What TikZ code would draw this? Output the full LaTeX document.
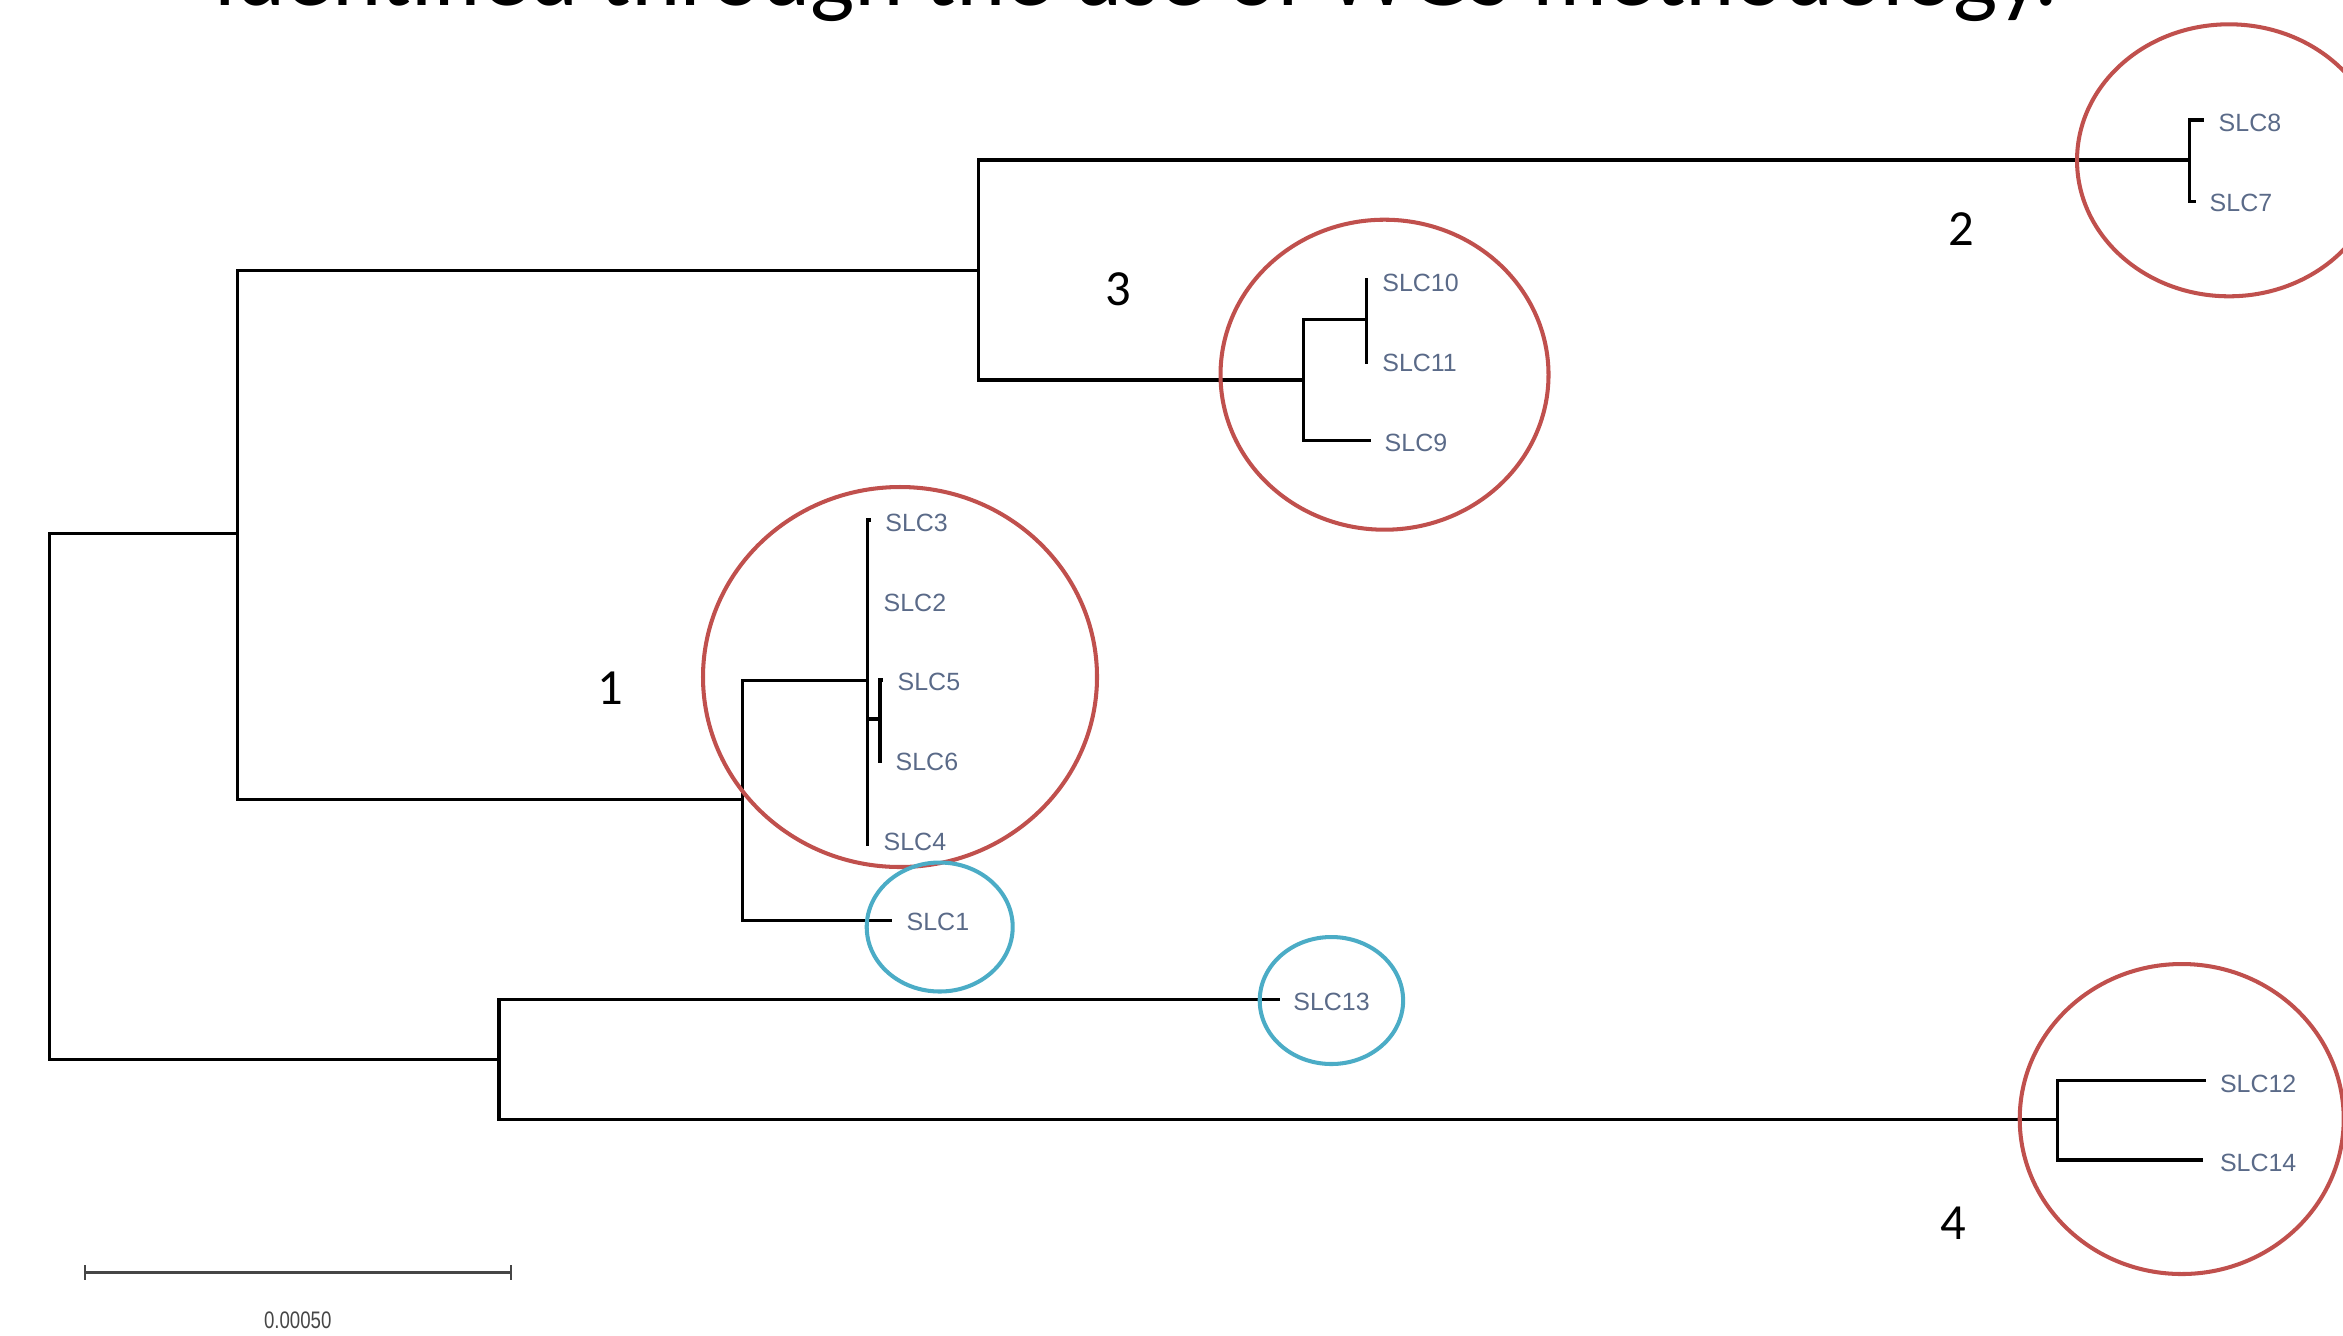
\documentclass[tikz,border=0pt]{standalone}
\usepackage{fontspec}
\setmainfont{Liberation Sans}
\newfontfamily\calfont{Carlito}
\definecolor{taxon}{RGB}{90,106,136}
\definecolor{cladered}{RGB}{192,80,77}
\definecolor{cladeblue}{RGB}{75,172,198}
\definecolor{barcol}{RGB}{70,70,70}

\begin{document}
\begin{tikzpicture}[x=0.1mm,y=-0.1mm,
  branch/.style={line width=0.94pt, draw=black},
  taxonlabel/.style={anchor=west, inner sep=0pt, text=taxon,
    font=\fontsize{7.1pt}{8pt}\selectfont},
  cladering/.style={line width=1.15pt, draw=cladered},
  singlering/.style={line width=1.15pt, draw=cladeblue},
  cladenum/.style={anchor=base, inner sep=0pt,
    font=\calfont\fontsize{14.4pt}{16pt}\selectfont},
  scalebar/.style={line width=0.75pt, draw=barcol},
]
\useasboundingbox (0,0) rectangle (2343,1335);
\clip (0,0) rectangle (2343,1335);

% heading line running off the top edge
\node[anchor=base west, inner sep=0pt,
      font=\calfont\fontsize{26.7pt}{30pt}\selectfont] (title)
  at (214,5) {identified through the use of WGS methodology.};

% internal nodes of the tree (x = depth, y = attachment height)
\coordinate (root)  at (49.3,796.5);
\coordinate (nA)    at (237.6,533.5);
\coordinate (nF)    at (499,1059.5);
\coordinate (nB)    at (978.8,270.5);
\coordinate (nD)    at (742.7,799.5);
\coordinate (n78)   at (2189.3,160);
\coordinate (nC)    at (1303.3,380);
\coordinate (n1011) at (1366.7,319.3);
\coordinate (nE)    at (867.7,680.7);
\coordinate (n56)   at (880,719);
\coordinate (nG)    at (2057.7,1119.3);

% leaf tips
\coordinate (t8)  at (2204,120);
\coordinate (t7)  at (2196,201.7);
\coordinate (t10) at (1368,280);
\coordinate (t11) at (1368,362.7);
\coordinate (t9)  at (1370.7,440.7);
\coordinate (t3)  at (870.7,520);
\coordinate (t2)  at (867.7,600);
\coordinate (t5)  at (882.7,680);
\coordinate (t6)  at (880,762.7);
\coordinate (t4)  at (867.7,846);
\coordinate (t1)  at (891.7,920.7);
\coordinate (t13) at (1280,999.7);
\coordinate (t12) at (2206,1080.7);
\coordinate (t14) at (2202.7,1160);

% branches
\draw[branch] (root) |- (nA);
\draw[branch] (root) |- (nF);
\draw[branch] (nA) |- (nB);
\draw[branch] (nA) |- (nD);
\draw[branch] (nB) |- (n78);
\draw[branch] (nB) |- (nC);
\draw[branch] (n78) |- (t8);
\draw[branch] (n78) |- (t7);
\draw[branch] (nC) |- (n1011);
\draw[branch] (nC) |- (t9);
\draw[branch] (n1011) |- (t10);
\draw[branch] (n1011) |- (t11);
\draw[branch] (nD) |- (nE);
\draw[branch] (nD) |- (t1);
\draw[branch] (nE) |- (t3);
\draw[branch] (nE) |- (t2);
\draw[branch] (nE) |- (n56);
\draw[branch] (nE) |- (t4);
\draw[branch] (n56) |- (t5);
\draw[branch] (n56) |- (t6);
\draw[branch] (nF) |- (t13);
\draw[branch] (nF) |- (nG);
\draw[branch] (nG) |- (t12);
\draw[branch] (nG) |- (t14);

% taxon labels
\node[taxonlabel] (L8)  at (2218,122.7)  {SLC8};
\node[taxonlabel] (L7)  at (2209,202.7)  {SLC7};
\node[taxonlabel] (L10) at (1381.7,282.7) {SLC10};
\node[taxonlabel] (L11) at (1381.7,362.7) {SLC11};
\node[taxonlabel] (L9)  at (1384,442.7)  {SLC9};
\node[taxonlabel] (L3)  at (884.7,522.7) {SLC3};
\node[taxonlabel] (L2)  at (883,602.7)   {SLC2};
\node[taxonlabel] (L5)  at (897,682)     {SLC5};
\node[taxonlabel] (L6)  at (895,761.7)   {SLC6};
\node[taxonlabel] (L4)  at (883,841.7)   {SLC4};
\node[taxonlabel] (L1)  at (906,921.7)   {SLC1};
\node[taxonlabel] (L13) at (1292.7,1001.7) {SLC13};
\node[taxonlabel] (L12) at (2219.3,1084) {SLC12};
\node[taxonlabel] (L14) at (2219.3,1163.3) {SLC14};

% clade rings
\draw[cladering] (900,677)     ellipse [x radius=19.7mm, y radius=19.0mm];
\draw[cladering] (2229,160.3)  ellipse [x radius=15.2mm, y radius=13.6mm];
\draw[cladering] (1384.5,374.7) ellipse [x radius=16.4mm, y radius=15.5mm];
\draw[cladering] (2181.7,1119) ellipse [x radius=16.2mm, y radius=15.5mm];
\draw[singlering] (939.7,927)  ellipse [x radius=7.3mm, y radius=6.45mm];
\draw[singlering] (1331.4,1000.5) ellipse [x radius=7.17mm, y radius=6.35mm];

% clade numbers
\node[cladenum] (c1) at (610,704)    {1};
\node[cladenum] (c2) at (1961.7,245) {2};
\node[cladenum] (c3) at (1118.3,305) {3};
\node[cladenum] (c4) at (1953,1239)  {4};

% scale bar
\coordinate (sbL) at (85,1272.7);
\coordinate (sbR) at (511,1272.7);
\draw[scalebar] (sbL) -- (sbR);
\draw[scalebar] (sbL) ++(0,-7.5) -- ++(0,15);
\draw[scalebar] (sbR) ++(0,-7.5) -- ++(0,15);
\node[inner sep=0pt, text=barcol, font=\fontsize{6.8pt}{8pt}\selectfont]
  (sblabel) at (297.7,1320) {\scalebox{0.78}[1]{0.00050}};
\end{tikzpicture}
\end{document}
